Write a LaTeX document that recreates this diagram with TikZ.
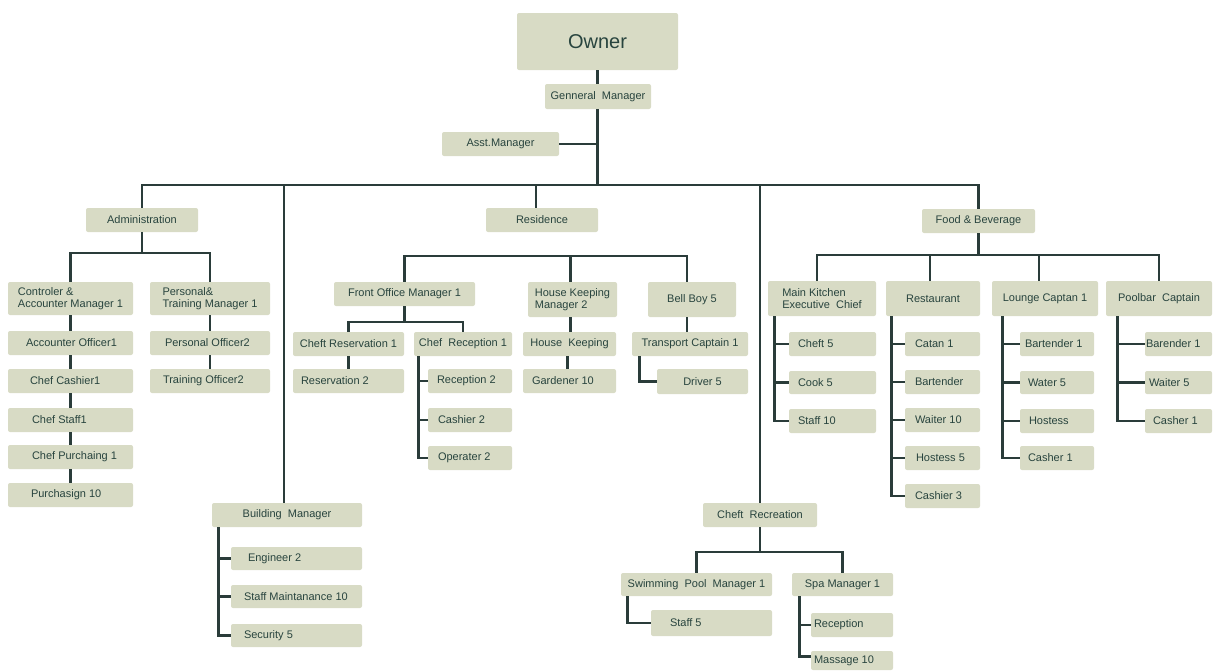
\documentclass[tikz,border=0pt]{standalone}
\usepackage{fontspec}
\setmainfont{Liberation Sans}
\definecolor{boxc}{RGB}{216,219,197}
\definecolor{txtc}{RGB}{40,68,62}
\definecolor{linec}{RGB}{42,60,58}
\tikzset{
  box/.style={fill=boxc, rounded corners=2pt, inner sep=0pt, text=txtc, font=\fontsize{11}{12.5}\selectfont},
  ln/.style={draw=linec, line width=2.8pt}
}
\newcommand\bx[7][]{\node[box,minimum width={#5-#3},minimum height={#6-#4},#1] (#2) at ({(#3+#5)/2},{(#4+#6)/2}) {#7};}
\newcommand\bl[7][10]{\node[box,minimum width={#5-#3},minimum height={#6-#4}] (#2) at ({(#3+#5)/2},{(#4+#6)/2}) {\makebox[\dimexpr#5pt-#3pt-#1pt-#1pt\relax][l]{#7}};}
\begin{document}
\begin{tikzpicture}[x=1pt,y=-1pt]
\useasboundingbox (0,0) rectangle (1214,670);
% top
\bx[font=\fontsize{20}{24}\selectfont]{owner}{517}{13}{678}{70}{Owner}
\bx{gm}{545}{84}{651}{109}{Genneral~ Manager}
\bx{asst}{442}{132}{559}{156}{Asst.Manager}
\bx{admin}{86}{208}{198}{232}{Administration}
\bx{resid}{486}{208}{598}{232}{Residence}
\bx{fb}{922}{209}{1035}{233}{Food \& Beverage}
\coordinate (mainbar) at (598,185);
% administration
\bx[align=left]{ctrl}{8}{282}{133}{315}{Controler \&\\Accounter Manager 1}
\bx[align=left]{pers}{150}{282}{270}{315}{Personal\&\\Training Manager 1}
\bl[18]{aoff}{8}{331}{133}{355}{Accounter Officer1}
\bl[22]{ccash}{8}{369}{133}{393}{Chef Cashier1}
\bl[24]{cstaff}{8}{408}{133}{432}{Chef Staff1}
\bl[24]{cpur}{8}{445}{133}{469}{Chef Purchaing 1}
\bl[23]{purch}{8}{483}{133}{507}{Purchasign 10}
\bl[15]{poff}{150}{331}{270}{355}{Personal Officer2}
\bl[13]{toff}{150}{369}{270}{393}{Training Officer2}
\coordinate (abar) at (0,253);
% building
\bx{bm}{212}{503}{362}{527}{Building~ Manager}
\bl[17]{eng}{231}{547}{362}{570}{Engineer 2}
\bl[13]{smaint}{231}{585}{362}{608}{Staff Maintanance 10}
\bl[13]{sec}{231}{624}{362}{647}{Security 5}
% residence
\bx{fom}{334}{282}{475}{306}{Front Office Manager 1}
\bx[align=left]{hkm}{528}{282}{617}{317}{House Keeping\\Manager 2}
\bx{bb}{648}{282}{736}{317}{Bell Boy 5}
\coordinate (rbar) at (0,256);
\coordinate (fbar) at (0,322);
\bx{cres}{293}{332}{404}{356}{Cheft Reservation 1}
\bx{crec}{414}{332}{512}{356}{Chef~ Reception 1}
\bl[8]{res2}{293}{369}{404}{393}{Reservation 2}
\bl[9]{rec2}{428}{369}{512}{393}{Reception 2}
\bl[10]{cash2}{428}{408}{512}{432}{Cashier 2}
\bl[10]{oper2}{428}{446}{512}{470}{Operater 2}
\bx{hk}{523}{332}{616}{356}{House~ Keeping}
\bl[9]{gard}{523}{369}{616}{393}{Gardener 10}
\bx{tcap}{632}{332}{748}{356}{Transport Captain 1}
\bx{driver}{657}{369}{748}{394}{Driver 5}
% food & beverage
\coordinate (fbbar) at (0,255);
\bx[align=left]{mk}{768}{281}{876}{316}{Main Kitchen\\Executive~ Chief}
\bx{rest}{886}{281}{980}{316}{Restaurant}
\bx{lounge}{992}{281}{1098}{316}{Lounge Captan 1}
\bx{pool}{1106}{281}{1212}{316}{Poolbar~ Captain}
\bl[9]{cheft5}{789}{332}{876}{356}{Cheft 5}
\bl[9]{cook5}{789}{371}{876}{394}{Cook 5}
\bl[9]{staff10}{789}{409}{876}{433}{Staff 10}
\bl[10]{catan}{905}{332}{980}{356}{Catan 1}
\bl[10]{bart}{905}{370}{980}{394}{Bartender}
\bl[10]{waiter10}{905}{408}{980}{432}{Waiter 10}
\bl[11]{hostess5}{905}{446}{980}{470}{Hostess 5}
\bl[10]{cashier3}{905}{484}{980}{508}{Cashier 3}
\bl[5]{bart1}{1020}{332}{1094}{356}{Bartender 1}
\bl[8]{water5}{1020}{371}{1094}{394}{Water 5}
\bl[9]{hostess}{1020}{409}{1094}{433}{Hostess}
\bl[8]{casher1}{1020}{446}{1094}{470}{Casher 1}
\bl[1]{barender}{1145}{332}{1212}{356}{Barender 1}
\bl[4]{waiter5}{1145}{371}{1212}{394}{Waiter 5}
\bl[8]{casher1b}{1145}{409}{1212}{433}{Casher 1}
% recreation
\bx{crecn}{703}{503}{817}{527}{Cheft~ Recreation}
\coordinate (rcbar) at (0,552);
\bx{swim}{621}{573}{772}{596}{Swimming~ Pool~ Manager 1}
\bx{spa}{792}{573}{893}{596}{Spa Manager 1}
\bl[19]{staff5}{651}{610}{772}{636}{Staff 5}
\bl[3]{recep}{811}{613}{893}{637}{Reception}
\bl[3]{massage}{811}{651}{893}{670}{Massage 10}

% ---------- connectors ----------
\draw[ln] (owner.south) -- (owner.south |- gm.north);
\draw[ln] (owner.south |- gm.south) -- (owner.south |- mainbar);
\draw[ln] (asst.east) -- (asst.east -| owner.south);
\draw[ln] (admin.north) -- (admin.north |- mainbar) -- (fb.north |- mainbar) -- (fb.north);
\draw[ln] ([xshift=-6pt]resid.north |- mainbar) -- ([xshift=-6pt]resid.north);
\draw[ln] ([xshift=-3pt]bm.north |- mainbar) -- ([xshift=-3pt]bm.north);
\draw[ln] (crecn.north |- mainbar) -- (crecn.north);
% admin
\draw[ln] (admin.south) -- (admin.south |- abar);
\draw[ln] (ctrl.north) -- (ctrl.north |- abar) -- (pers.north |- abar) -- (pers.north);
\draw[ln] (ctrl.south) -- (aoff.north);
\draw[ln] (aoff.south) -- (ccash.north);
\draw[ln] (ccash.south) -- (cstaff.north);
\draw[ln] (cstaff.south) -- (cpur.north);
\draw[ln] (cpur.south) -- (purch.north);
\draw[ln] (pers.south) -- (poff.north);
\draw[ln] (poff.south) -- (toff.north);
% building
\draw[ln] ([xshift=7pt]bm.south west) |- (sec.west);
\draw[ln] ([xshift=7pt]bm.south west |- eng.west) -- (eng.west);
\draw[ln] ([xshift=7pt]bm.south west |- smaint.west) -- (smaint.west);
% residence
\draw[ln] (fom.north) -- (fom.north |- rbar) -- ([xshift=-5pt]bb.north |- rbar) -- ([xshift=-5pt]bb.north);
\draw[ln] ([xshift=-2pt]hkm.north |- rbar) -- ([xshift=-2pt]hkm.north);
\draw[ln] (fom.south) -- (fom.south |- fbar);
\draw[ln] (cres.north) -- (cres.north |- fbar) -- (crec.north |- fbar) -- (crec.north);
\draw[ln] (cres.south) -- (res2.north);
\draw[ln] ([xshift=5pt]crec.south west) |- (oper2.west);
\draw[ln] ([xshift=5pt]crec.south west |- rec2.west) -- (rec2.west);
\draw[ln] ([xshift=5pt]crec.south west |- cash2.west) -- (cash2.west);
\draw[ln] ([xshift=-2pt]hkm.south) -- ([xshift=-2pt]hkm.south |- hk.north);
\draw[ln] ([xshift=-2pt]hk.south) -- ([xshift=-2pt]hk.south |- gard.north);
\draw[ln] ([xshift=-5pt]bb.south) -- ([xshift=-5pt]bb.south |- tcap.north);
\draw[ln] ([xshift=8pt]tcap.south west) |- (driver.west);
% food & beverage
\draw[ln] (fb.south) -- (fb.south |- fbbar);
\draw[ln] ([xshift=-5pt]mk.north) -- ([xshift=-5pt]mk.north |- fbbar) -- (pool.north |- fbbar) -- (pool.north);
\draw[ln] ([xshift=-3pt]rest.north |- fbbar) -- ([xshift=-3pt]rest.north);
\draw[ln] ([xshift=-6pt]lounge.north |- fbbar) -- ([xshift=-6pt]lounge.north);
\draw[ln] ([xshift=7pt]mk.south west) |- (staff10.west);
\draw[ln] ([xshift=7pt]mk.south west |- cheft5.west) -- (cheft5.west);
\draw[ln] ([xshift=7pt]mk.south west |- cook5.west) -- (cook5.west);
\draw[ln] ([xshift=6pt]rest.south west) |- (cashier3.west);
\draw[ln] ([xshift=6pt]rest.south west |- catan.west) -- (catan.west);
\draw[ln] ([xshift=6pt]rest.south west |- bart.west) -- (bart.west);
\draw[ln] ([xshift=6pt]rest.south west |- waiter10.west) -- (waiter10.west);
\draw[ln] ([xshift=6pt]rest.south west |- hostess5.west) -- (hostess5.west);
\draw[ln] ([xshift=11pt]lounge.south west) |- (casher1.west);
\draw[ln] ([xshift=11pt]lounge.south west |- bart1.west) -- (bart1.west);
\draw[ln] ([xshift=11pt]lounge.south west |- water5.west) -- (water5.west);
\draw[ln] ([xshift=11pt]lounge.south west |- hostess.west) -- (hostess.west);
\draw[ln] ([xshift=12pt]pool.south west) |- (casher1b.west);
\draw[ln] ([xshift=12pt]pool.south west |- barender.west) -- (barender.west);
\draw[ln] ([xshift=12pt]pool.south west |- waiter5.west) -- (waiter5.west);
% recreation
\draw[ln] (crecn.south) -- (crecn.south |- rcbar);
\draw[ln] (swim.north) -- (swim.north |- rcbar) -- (spa.north |- rcbar) -- (spa.north);
\draw[ln] ([xshift=7pt]swim.south west) |- (staff5.west);
\draw[ln] ([xshift=8pt]spa.south west) |- ([yshift=4pt]massage.west);
\draw[ln] ([xshift=8pt]spa.south west |- recep.west) -- (recep.west);
\end{tikzpicture}
\end{document}
